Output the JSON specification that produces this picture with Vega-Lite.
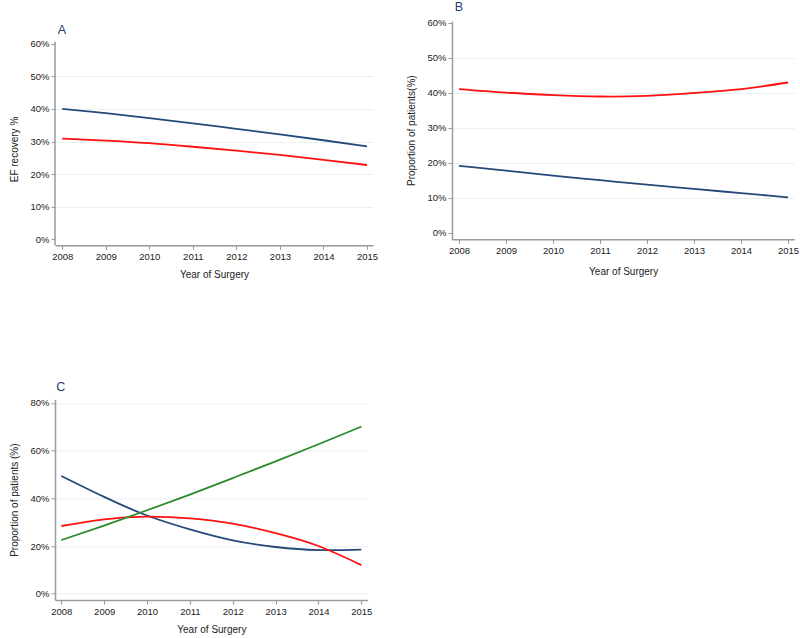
{
  "$schema": "https://vega.github.io/schema/vega-lite/v6.json",
  "background": "white",
  "padding": {"left": 9, "top": 1, "right": 0, "bottom": 0},
  "config": {
    "view": {"stroke": null},
    "font": "Liberation Sans",
    "axis": {
      "labelFont": "Liberation Sans",
      "labelFontSize": 9.5,
      "labelColor": "#222222",
      "labelOverlap": false,
      "tickCount": 20,
      "titleFont": "Liberation Sans",
      "titleFontSize": 10,
      "titleFontWeight": "normal",
      "titleColor": "#222222",
      "domainColor": "#9a9a9a",
      "domainWidth": 1.5,
      "tickColor": "#9a9a9a",
      "tickSize": 4,
      "tickWidth": 1,
      "labelPadding": 2,
      "gridColor": "#e8f1f2",
      "gridWidth": 1
    }
  },
  "datasets": {
    "A": [
      {"series": "line1", "year": 2008, "value": 0.400},
      {"series": "line1", "year": 2009, "value": 0.387},
      {"series": "line1", "year": 2010, "value": 0.372},
      {"series": "line1", "year": 2011, "value": 0.356},
      {"series": "line1", "year": 2012, "value": 0.339},
      {"series": "line1", "year": 2013, "value": 0.322},
      {"series": "line1", "year": 2014, "value": 0.304},
      {"series": "line1", "year": 2015, "value": 0.285},
      {"series": "line2", "year": 2008, "value": 0.309},
      {"series": "line2", "year": 2009, "value": 0.303},
      {"series": "line2", "year": 2010, "value": 0.295},
      {"series": "line2", "year": 2011, "value": 0.284},
      {"series": "line2", "year": 2012, "value": 0.272},
      {"series": "line2", "year": 2013, "value": 0.259},
      {"series": "line2", "year": 2014, "value": 0.244},
      {"series": "line2", "year": 2015, "value": 0.228}
    ],
    "B": [
      {"series": "line1", "year": 2008, "value": 0.192},
      {"series": "line1", "year": 2009, "value": 0.178},
      {"series": "line1", "year": 2010, "value": 0.164},
      {"series": "line1", "year": 2011, "value": 0.151},
      {"series": "line1", "year": 2012, "value": 0.138},
      {"series": "line1", "year": 2013, "value": 0.126},
      {"series": "line1", "year": 2014, "value": 0.114},
      {"series": "line1", "year": 2015, "value": 0.102},
      {"series": "line2", "year": 2008, "value": 0.411},
      {"series": "line2", "year": 2009, "value": 0.401},
      {"series": "line2", "year": 2010, "value": 0.394},
      {"series": "line2", "year": 2011, "value": 0.390},
      {"series": "line2", "year": 2012, "value": 0.392},
      {"series": "line2", "year": 2013, "value": 0.400},
      {"series": "line2", "year": 2014, "value": 0.411},
      {"series": "line2", "year": 2015, "value": 0.430}
    ],
    "C": [
      {"series": "line1", "year": 2008, "value": 0.494},
      {"series": "line1", "year": 2009, "value": 0.406},
      {"series": "line1", "year": 2010, "value": 0.328},
      {"series": "line1", "year": 2011, "value": 0.270},
      {"series": "line1", "year": 2012, "value": 0.224},
      {"series": "line1", "year": 2013, "value": 0.196},
      {"series": "line1", "year": 2014, "value": 0.183},
      {"series": "line1", "year": 2015, "value": 0.185},
      {"series": "line2", "year": 2008, "value": 0.284},
      {"series": "line2", "year": 2009, "value": 0.312},
      {"series": "line2", "year": 2010, "value": 0.323},
      {"series": "line2", "year": 2011, "value": 0.316},
      {"series": "line2", "year": 2012, "value": 0.294},
      {"series": "line2", "year": 2013, "value": 0.254},
      {"series": "line2", "year": 2014, "value": 0.200},
      {"series": "line2", "year": 2015, "value": 0.120},
      {"series": "line3", "year": 2008, "value": 0.225},
      {"series": "line3", "year": 2009, "value": 0.286},
      {"series": "line3", "year": 2010, "value": 0.350},
      {"series": "line3", "year": 2011, "value": 0.416},
      {"series": "line3", "year": 2012, "value": 0.485},
      {"series": "line3", "year": 2013, "value": 0.555},
      {"series": "line3", "year": 2014, "value": 0.627},
      {"series": "line3", "year": 2015, "value": 0.701}
    ]
  },
  "columns": 2,
  "spacing": {"row": 153.3, "column": 79},
  "bounds": "flush",
  "concat": [
    {
      "width": 318,
      "height": 224.3,
      "layer": [
        {
          "data": {"name": "A"},
          "mark": {"type": "line", "strokeWidth": 1.8, "interpolate": "natural"},
          "encoding": {
            "x": {"field": "year", "type": "quantitative", "scale": {"domain": [2007.834, 2015.138], "nice": false, "zero": false},
              "axis": {"title": "Year of Surgery", "values": [2008, 2009, 2010, 2011, 2012, 2013, 2014, 2015], "format": "d", "grid": false, "titlePadding": 9}},
            "y": {"field": "value", "type": "quantitative", "scale": {"domain": [-0.0184, 0.670], "nice": false, "zero": false},
              "axis": {"title": "EF recovery %", "values": [0, 0.1, 0.2, 0.3, 0.4, 0.5, 0.6], "format": ".0%", "domain": false, "titlePadding": 10, "titleY": 128,
                "gridOpacity": {"condition": {"test": "datum.value < 0.05 || datum.value > 0.55", "value": 0}, "value": 1}}},
            "color": {"field": "series", "type": "nominal", "legend": null,
              "scale": {"domain": ["line1", "line2", "line3"], "range": ["#24497a", "#ff1010", "#2b8a2b"]}}
          }
        },
        {
          "data": {"values": [{"axis": "y"}]},
          "mark": {"type": "rule", "color": "#9a9a9a", "strokeWidth": 1.5},
          "encoding": {
            "x": {"datum": 2007.834, "type": "quantitative"},
            "y": {"datum": -0.0184, "type": "quantitative"},
            "y2": {"datum": 0.606}
          }
        },
        {
          "data": {"values": [{"label": "A"}]},
          "mark": {"type": "text", "align": "left", "baseline": "alphabetic", "fontSize": 12.5, "color": "#1f3a6e", "font": "Liberation Sans"},
          "encoding": {
            "x": {"datum": 2007.9, "type": "quantitative"},
            "y": {"datum": 0.631, "type": "quantitative"},
            "text": {"field": "label"}
          }
        }
      ]
    },
    {
      "width": 342.3,
      "height": 218.3,
      "layer": [
        {
          "data": {"name": "B"},
          "mark": {"type": "line", "strokeWidth": 1.8, "interpolate": "natural"},
          "encoding": {
            "x": {"field": "year", "type": "quantitative", "scale": {"domain": [2007.851, 2015.134], "nice": false, "zero": false},
              "axis": {"title": "Year of Surgery", "values": [2008, 2009, 2010, 2011, 2012, 2013, 2014, 2015], "format": "d", "grid": false, "titlePadding": 12}},
            "y": {"field": "value", "type": "quantitative", "scale": {"domain": [-0.018, 0.6057], "nice": false, "zero": false},
              "axis": {"title": "Proportion of patients(%)", "values": [0, 0.1, 0.2, 0.3, 0.4, 0.5, 0.6], "format": ".0%", "titlePadding": 10,
                "gridOpacity": {"condition": {"test": "datum.value < 0.05 || datum.value > 0.55", "value": 0}, "value": 1}}},
            "color": {"field": "series", "type": "nominal", "legend": null,
              "scale": {"domain": ["line1", "line2", "line3"], "range": ["#24497a", "#ff1010", "#2b8a2b"]}}
          }
        },
        {
          "data": {"values": [{"label": "B"}]},
          "mark": {"type": "text", "align": "left", "baseline": "alphabetic", "fontSize": 12.5, "color": "#1f3a6e", "font": "Liberation Sans"},
          "encoding": {
            "x": {"datum": 2007.908, "type": "quantitative"},
            "y": {"datum": 0.634, "type": "quantitative"},
            "text": {"field": "label"}
          }
        }
      ]
    },
    {
      "width": 312.7,
      "height": 200.7,
      "layer": [
        {
          "data": {"name": "C"},
          "mark": {"type": "line", "strokeWidth": 1.8, "interpolate": "natural"},
          "encoding": {
            "x": {"field": "year", "type": "quantitative", "scale": {"domain": [2007.853, 2015.149], "nice": false, "zero": false},
              "axis": {"title": "Year of Surgery", "values": [2008, 2009, 2010, 2011, 2012, 2013, 2014, 2015], "format": "d", "grid": false, "titlePadding": 9}},
            "y": {"field": "value", "type": "quantitative", "scale": {"domain": [-0.0264, 0.8155], "nice": false, "zero": false},
              "axis": {"title": "Proportion of patients (%)", "values": [0, 0.2, 0.4, 0.6, 0.8], "format": ".0%", "titlePadding": 10}},
            "color": {"field": "series", "type": "nominal", "legend": null,
              "scale": {"domain": ["line1", "line2", "line3"], "range": ["#24497a", "#ff1010", "#2b8a2b"]}}
          }
        },
        {
          "data": {"values": [{"label": "C"}]},
          "mark": {"type": "text", "align": "left", "baseline": "alphabetic", "fontSize": 12.5, "color": "#1f3a6e", "font": "Liberation Sans"},
          "encoding": {
            "x": {"datum": 2007.88, "type": "quantitative"},
            "y": {"datum": 0.85, "type": "quantitative"},
            "text": {"field": "label"}
          }
        }
      ]
    }
  ]
}
